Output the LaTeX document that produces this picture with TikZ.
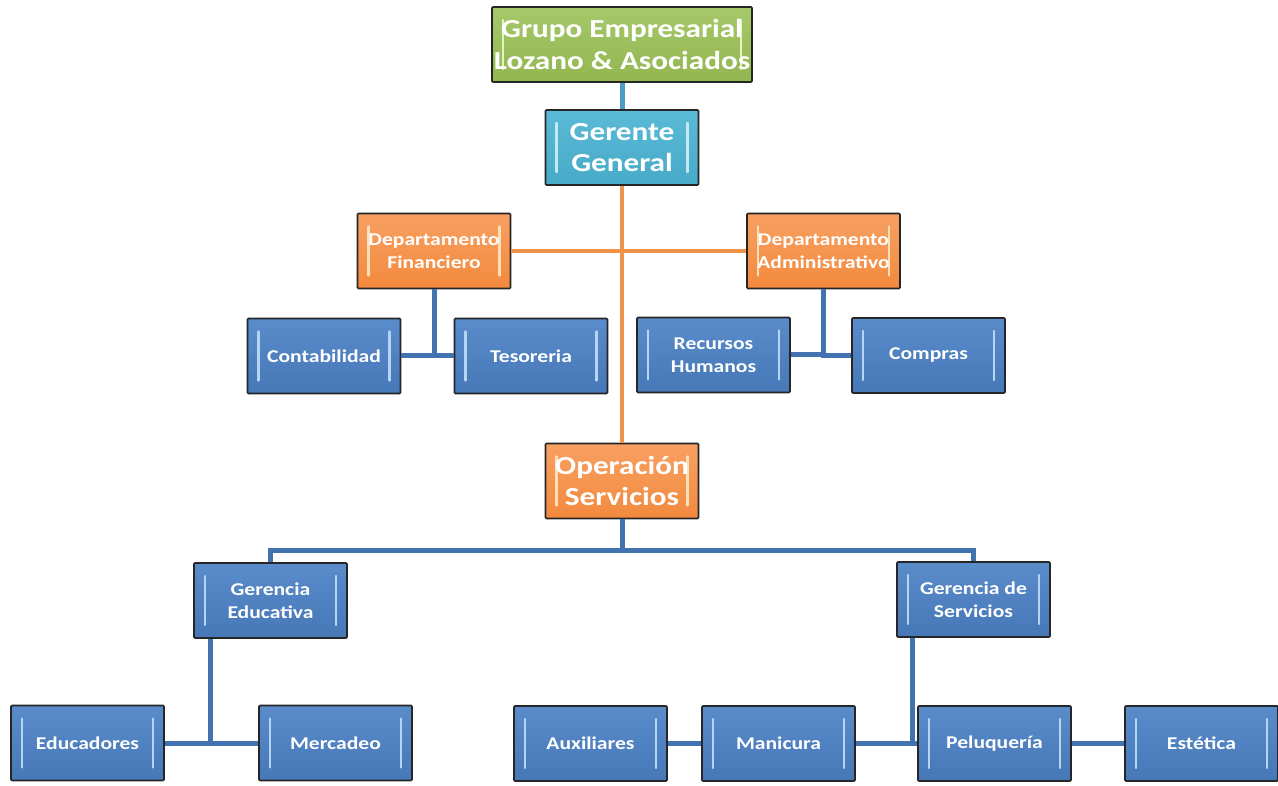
\documentclass[tikz,border=0pt]{standalone}
\usepackage{fontspec}
\setmainfont{Carlito}[FakeStretch=1.2]
\definecolor{bxblue}{HTML}{4677B6}
\definecolor{bxblueT}{HTML}{5A8BCA}
\definecolor{bxblueL}{HTML}{B4D6F4}
\definecolor{bxcyan}{HTML}{46AAC8}
\definecolor{bxcyanT}{HTML}{5BBAD6}
\definecolor{bxcyanL}{HTML}{C4E9F4}
\definecolor{bxorange}{HTML}{F28A3E}
\definecolor{bxorangeT}{HTML}{F8A062}
\definecolor{bxorangeL}{HTML}{FCE0B8}
\definecolor{bxgreen}{HTML}{92B650}
\definecolor{bxgreenT}{HTML}{A6C86A}
\definecolor{bxgreenL}{HTML}{E4F2C4}
\definecolor{lnblue}{HTML}{4272B0}
\definecolor{lncyan}{HTML}{4A9CC4}
\definecolor{lnorange}{HTML}{F2934A}
\tikzset{
  brk/.style={path picture={
    \draw[#1,line width=2.4pt,line cap=round]
      ([xshift=11pt,yshift=-13pt]path picture bounding box.north west) --
      ([xshift=11pt,yshift=13pt]path picture bounding box.south west);
    \draw[#1,line width=2.4pt,line cap=round]
      ([xshift=-11pt,yshift=-13pt]path picture bounding box.north east) --
      ([xshift=-11pt,yshift=13pt]path picture bounding box.south east);}},
  box/.style={rectangle, draw=black!85, line width=1.6pt, rounded corners=1pt,
    minimum width=153pt, minimum height=75pt, inner sep=0pt, align=center,
    text=white, font=\bfseries\fontsize{18}{23}\selectfont},
  bluebox/.style={box, top color=bxblueT, bottom color=bxblue, brk=bxblueL},
  orangebox/.style={box, top color=bxorangeT, bottom color=bxorange, brk=bxorangeL},
  bigorange/.style={orangebox, font=\bfseries\fontsize{26}{31}\selectfont},
  cyanbox/.style={box, top color=bxcyanT, bottom color=bxcyan, brk=bxcyanL,
    font=\bfseries\fontsize{26}{31}\selectfont},
  greenbox/.style={box, minimum width=260pt, top color=bxgreenT, bottom color=bxgreen,
    brk=bxgreenL, font=\bfseries\fontsize{26}{32}\selectfont},
  bline/.style={draw=lnblue, line width=5pt},
  oline/.style={draw=lnorange, line width=4pt},
  cline/.style={draw=lncyan, line width=5pt},
}
\begin{document}
\begin{tikzpicture}[x=1pt,y=-1pt]
\useasboundingbox (0,0) rectangle (1278,786);

\coordinate (obus) at (622,550);

\node[greenbox] (grupo) at (622,44.5) {Grupo Empresarial\\Lozano \& Asociados};
\node[cyanbox] (gerente) at (622,147.5) {Gerente\\General};
\node[orangebox] (fin) at (434,251) {Departamento\\Financiero};
\node[orangebox] (adm) at (823.5,251) {Departamento\\Administrativo};
\node[bluebox] (cont) at (324,356) {Contabilidad};
\node[bluebox] (tes) at (531,356) {Tesoreria};
\node[bluebox] (rh) at (713.5,355) {Recursos\\Humanos};
\node[bluebox] (comp) at (928.5,355.5) {Compras};
\node[bigorange] (oper) at (622,481) {Operación\\Servicios};
\node[bluebox] (gedu) at (270.5,600.5) {Gerencia\\Educativa};
\node[bluebox] (gserv) at (973.5,599.5) {Gerencia de\\Servicios};
\node[bluebox] (edu) at (87.5,743) {Educadores};
\node[bluebox] (merc) at (335.5,743) {Mercadeo};
\node[bluebox] (aux) at (590.5,743.5) {Auxiliares};
\node[bluebox] (mani) at (778.5,743.5) {Manicura};
\node[bluebox] (pelu) at (994.5,743.5) {Peluquería};
\node[bluebox] (este) at (1201.5,743.5) {Estética};

\draw[cline] (grupo.south) -- (gerente.north);
\draw[oline] (gerente.south) -- (oper.north);
\draw[oline] (fin.east) -- (adm.west);
\draw[bline] (fin.south) |- (cont.east);
\draw[bline] (fin.south) |- (tes.west);
\draw[bline] (adm.south) |- (rh.east);
\draw[bline] (adm.south) |- (comp.west);
\draw[bline] (oper.south) -- (obus) -| (gedu.north);
\draw[bline] (obus) -| (gserv.north);
\draw[bline] ([xshift=-60pt]gedu.south) |- (edu.east);
\draw[bline] ([xshift=-60pt]gedu.south) |- (merc.west);
\draw[bline] ([xshift=-61pt]gserv.south) |- (mani.east);
\draw[bline] (mani.east) -- (pelu.west);
\draw[bline] (aux.east) -- (mani.west);
\draw[bline] (pelu.east) -- (este.west);
\end{tikzpicture}
\end{document}
